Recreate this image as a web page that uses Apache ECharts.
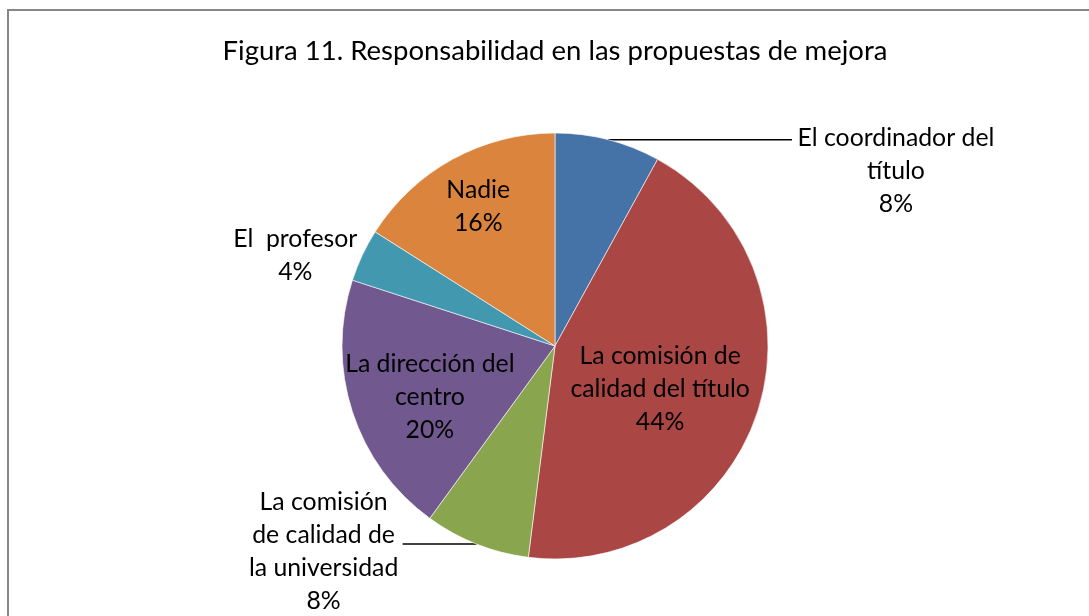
<!DOCTYPE html>
<html>
<head>
<meta charset="utf-8">
<script src="https://cdn.jsdelivr.net/npm/echarts@6/dist/echarts.min.js"></script>
<style>
  html, body { margin: 0; padding: 0; background: #fff; }
  #main { width: 1089px; height: 616px; }
</style>
</head>
<body>
<div id="main"></div>
<script>
const categories = [
  "El coordinador del título",
  "La comisión de calidad del título",
  "La comisión de calidad de la universidad",
  "La dirección del centro",
  "El  profesor",
  "Nadie",
];
const labelTexts = [
  "El coordinador del\ntítulo",
  "La comisión de\ncalidad del título",
  "La comisión\nde calidad de\nla universidad",
  "La dirección del\ncentro",
  "El  profesor",
  "Nadie",
];
const values = [8, 44, 8, 20, 4, 16];
const colors = ["#4572A7", "#AA4643", "#89A54E", "#71588F", "#4198AF", "#DB843D"];

// label placement per slice (Excel puts some inside, some outside)
const labelStyles = [
  { position: "outside", offset: [0, 31], length: 0, length2: 184, width: 198, line: true },
  { position: "inside", offset: [1, 9] },
  { position: "outside", offset: [0, 7], length: 0, length2: 74, width: 148, line: true },
  { position: "inside", offset: [-21, 17] },
  { position: "outside", offset: [0, 0], length: 0, length2: 0, width: 124, line: false },
  { position: "inside", offset: [-24, -44] },
];

const FONT = "Lato";
const LABEL_SIZE = 24.8;

let chartDom = document.getElementById("main");
const myChart = echarts.init(chartDom, null, { renderer: "canvas" });

const data = categories.map((name, i) => {
  const s = labelStyles[i];
  const rich = {
    c: {
      fontFamily: FONT,
      fontSize: LABEL_SIZE,
      lineHeight: 33,
      color: "#000",
      align: "center",
    },
  };
  if (s.width) rich.c.width = s.width;
  return {
    name: name,
    value: values[i],
    itemStyle: { color: colors[i] },
    label: {
      position: s.position,
      offset: s.offset,
      rich: rich,
    },
    labelLine: {
      show: s.position === "outside" && s.line,
      length: s.length || 0,
      length2: s.length2 || 0,
    },
  };
});

const option = {
  animation: false,
  title: {
    text: "Figura 11. Responsabilidad en las propuestas de mejora",
    left: 550,
    top: 32,
    textAlign: "center",
    textStyle: {
      fontFamily: FONT,
      fontSize: 27.5,
      fontWeight: "normal",
      color: "#000",
    },
  },
  graphic: [
    {
      type: "rect",
      shape: { x: 8, y: 10, width: 1200, height: 700 },
      style: { fill: "none", stroke: "#878787", lineWidth: 2 },
      silent: true,
    },
  ],
  series: [
    {
      type: "pie",
      center: [555, 346],
      radius: 213,
      startAngle: 90,
      clockwise: true,
      avoidLabelOverlap: false,
      itemStyle: { borderColor: "#ffffff", borderWidth: 0.6 },
      label: {
        show: true,
        distanceToLabelLine: 5,
        formatter: (p) => {
          const lines = labelTexts[p.dataIndex].split("\n");
          lines.push(p.value + "%");
          return lines.map((l) => "{c|" + l + "}").join("\n");
        },
      },
      labelLine: {
        lineStyle: { color: "#000", width: 1.5 },
        smooth: false,
      },
      emphasis: { disabled: true },
      data: data,
    },
  ],
};
myChart.setOption(option);
</script>
</body>
</html>
